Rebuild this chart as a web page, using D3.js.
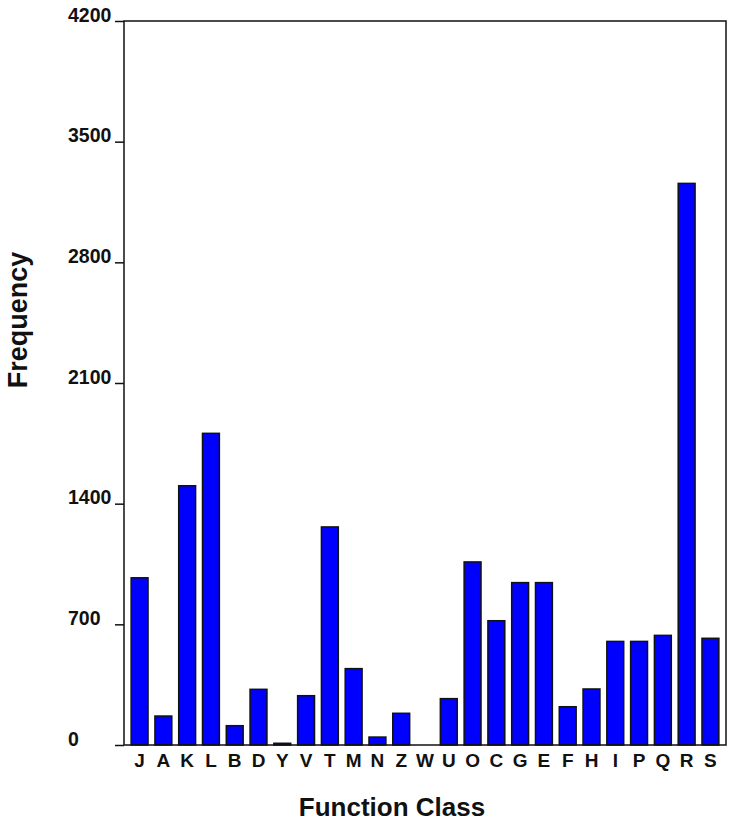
<!DOCTYPE html>
<html>
<head>
<meta charset="utf-8">
<script src="https://cdn.jsdelivr.net/npm/d3@7"></script>
<style>
  body { margin: 0; background: #fff; }
  text { font-family: "Liberation Sans", Arial, sans-serif; font-weight: bold; fill: #111; }
</style>
</head>
<body>
<svg id="chart" width="733" height="822"></svg>
<script>
const classes = ['J','A','K','L','B','D','Y','V','T','M','N','Z','W','U','O','C','G','E','F','H','I','P','Q','R','S'];
const frequency = [970,168,1504,1808,112,323,10,286,1265,443,46,184,0,269,1062,721,942,942,222,325,601,601,636,3258,619];
const yTicks = [0,700,1400,2100,2800,3500,4200];

const svg = d3.select('#chart');
const plotLeft = 124, plotRight = 726, plotTop = 21, plotBottom = 745;

const x = d3.scaleBand()
    .domain(classes)
    .range([plotLeft, plotRight])
    .paddingInner(0.29)
    .paddingOuter(0.3);

const y = d3.scaleLinear()
    .domain([0, 4200])
    .range([plotBottom, plotTop]);

// bars
svg.append('g')
    .selectAll('rect')
    .data(classes)
    .join('rect')
    .attr('x', d => x(d))
    .attr('y', (d, i) => y(frequency[i]))
    .attr('width', x.bandwidth())
    .attr('height', (d, i) => plotBottom - y(frequency[i]))
    .attr('fill', '#0000ff')
    .attr('stroke', '#111')
    .attr('stroke-width', 1.5);

// y axis, labels sit left-aligned just above each tick
const yAxis = svg.append('g')
    .attr('transform', `translate(${plotLeft},0)`)
    .call(d3.axisLeft(y).tickValues(yTicks).tickSize(9).tickFormat(d3.format('d')));
yAxis.select('.domain').remove();
yAxis.selectAll('.tick line').attr('stroke', '#111').attr('stroke-width', 1.5);
yAxis.selectAll('.tick text')
    .attr('x', 68 - plotLeft)
    .attr('dy', 0)
    .attr('text-anchor', 'start')
    .style('font-size', '19.5px');

// x axis
const xAxis = svg.append('g')
    .attr('transform', `translate(0,${plotBottom})`)
    .call(d3.axisBottom(x).tickSize(0));
xAxis.select('.domain').remove();
xAxis.selectAll('.tick text')
    .attr('y', 22)
    .attr('dy', 0)
    .style('font-size', '19px');

// frame
svg.append('rect')
    .attr('x', plotLeft)
    .attr('y', plotTop)
    .attr('width', plotRight - plotLeft)
    .attr('height', plotBottom - plotTop)
    .attr('fill', 'none')
    .attr('stroke', '#111')
    .attr('stroke-width', 1.5);

// axis titles
svg.append('text')
    .attr('transform', 'translate(27,320) rotate(-90)')
    .attr('text-anchor', 'middle')
    .style('font-size', '27px')
    .text('Frequency');

svg.append('text')
    .attr('x', 392)
    .attr('y', 816)
    .attr('text-anchor', 'middle')
    .style('font-size', '26px')
    .text('Function Class');
</script>
</body>
</html>
